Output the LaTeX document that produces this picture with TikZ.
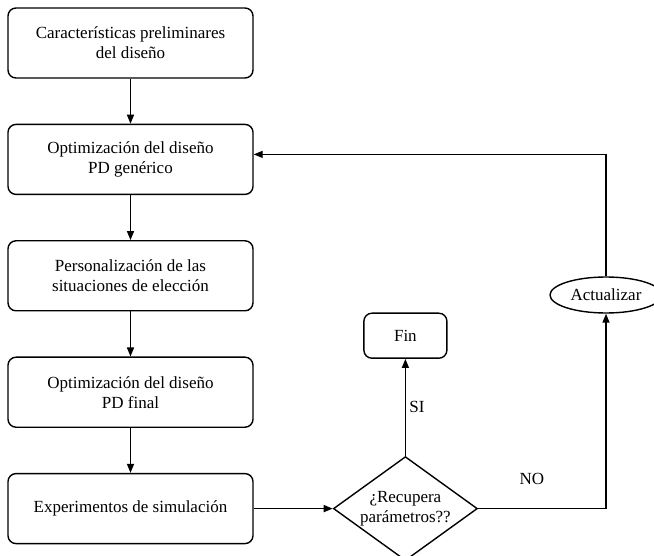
\documentclass[tikz,border=0pt]{standalone}
\usepackage{fontspec}
\setmainfont{Liberation Serif}
\usetikzlibrary{arrows.meta,positioning,shapes.geometric}

\begin{document}
\begin{tikzpicture}[node distance=45pt,font=\fontsize{17}{20}\selectfont,
box/.style={draw,line width=1.4pt,rounded corners=8pt,align=center,minimum width=245pt,minimum height=70pt},
dec/.style={draw,line width=1.4pt,diamond,shape aspect=1.4,inner sep=0pt,align=center,minimum width=144pt,minimum height=104pt},
oval/.style={draw,line width=1.4pt,ellipse,inner sep=0pt,minimum width=112pt,minimum height=36pt},
arr/.style={-{Triangle[length=9pt,width=7pt]},line width=1.4pt}]
\useasboundingbox (0,0) rectangle (654pt,-556pt);
\node[box] (carac) at (130.5pt,-43pt) {Características preliminares\\del diseño};
\node[box,below=of carac] (optgen) {Optimización del diseño\\PD genérico};
\node[box,below=of optgen] (perso) {Personalización de las\\situaciones de elección};
\node[box,below=of perso] (optfin) {Optimización del diseño\\PD final};
\node[box,below=of optfin] (simul) {Experimentos de simulación};
\node[dec,right=79pt of simul] (recup) {¿Recupera\\parámetros??};
\node[draw,line width=1.4pt,rounded corners=8pt,minimum width=83pt,minimum height=45pt,above=97pt of recup] (fin) {Fin};
\node[oval] (act) at (606pt,-295pt) {Actualizar};
\draw[arr] (carac)--(optgen); \draw[arr] (optgen)--(perso); \draw[arr] (perso)--(optfin); \draw[arr] (optfin)--(simul);
\draw[arr] (simul)--(recup); \draw[arr] (recup)--node[right]{SI}(fin);
\draw[arr] (recup.east)-|node[pos=0.21,above=20pt]{NO}(act.south);
\draw[arr] (act.north)|-([yshift=5pt]optgen.east);
\end{tikzpicture}
\end{document}
